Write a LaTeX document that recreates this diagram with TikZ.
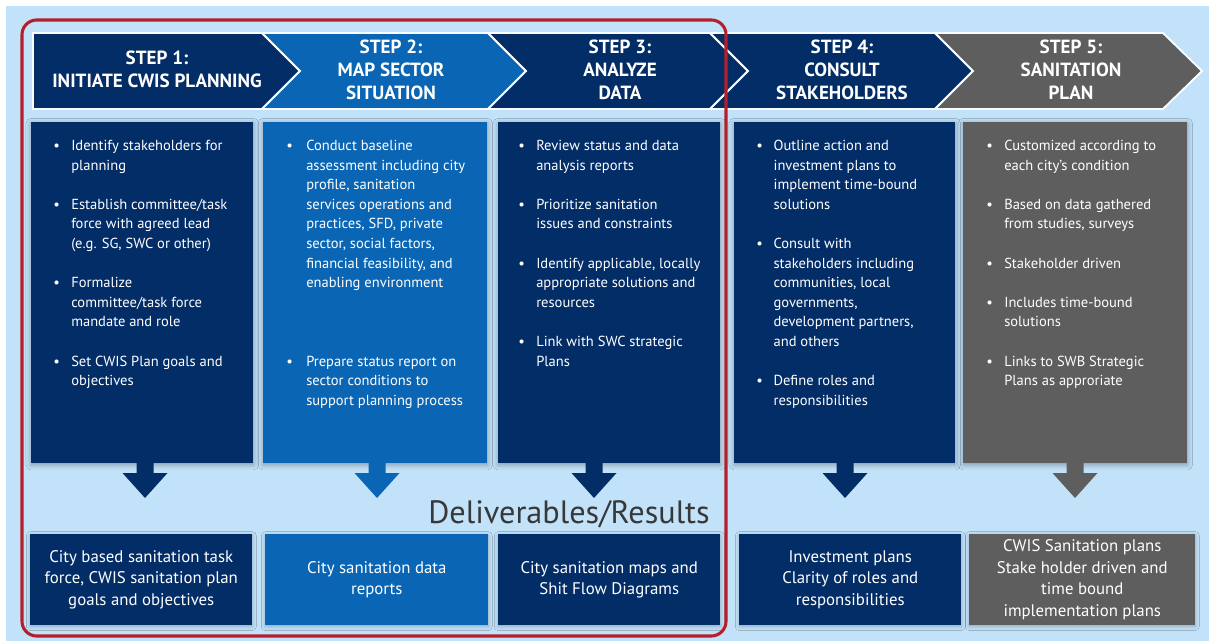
\documentclass[tikz,border=0pt]{standalone}
\usepackage{fontspec}
\setmainfont{PT Sans}
\usetikzlibrary{shadows.blur}

\definecolor{navy}{HTML}{032D67}
\definecolor{stepblue}{HTML}{0A66B4}
\definecolor{slate}{HTML}{5E5E5E}
\definecolor{sky}{HTML}{C2E2F9}
\definecolor{framered}{HTML}{B3202A}
\definecolor{ink}{HTML}{383838}

\tikzset{
  chevron/.style={line width=1.4pt, draw=white!92!sky},
  steptext/.style={text=white, align=center, inner sep=0pt,
    font=\bfseries\fontsize{14.3pt}{17.2pt}\selectfont},
  bodybox/.style={anchor=north west, inner sep=0pt, minimum height=255.75pt,
    blur shadow={shadow xshift=0pt, shadow yshift=-1pt, shadow blur radius=4pt, shadow opacity=35}},
  bodytext/.style={anchor=base west, text=white, inner sep=0pt,
    font=\fontsize{10.9pt}{14.7pt}\selectfont},
  resultbox/.style={anchor=north west, inner sep=0pt, minimum height=68.25pt,
    text=white, align=center, font=\fontsize{12.6pt}{16.1pt}\selectfont,
    blur shadow={shadow xshift=0pt, shadow yshift=-1pt, shadow blur radius=3pt, shadow opacity=25}},
  pics/downarrow/.style={code={
    \fill[#1] (-8.5,0) -- (8.5,0) -- (8.5,10) -- (22.5,10) -- (0,35)
      -- (-22.5,10) -- (-8.5,10) -- cycle;}}
}

\newcommand{\gapline}{\\[14.7pt]}

\begin{document}
\begin{tikzpicture}[x=0.75pt,y=-0.75pt]
\useasboundingbox (0,0) rectangle (1209,641);
\fill[sky] (6,6) rectangle (1209,641);

% step chevrons
\filldraw[chevron, fill=navy]      (33,33) -- (262,33) -- (300,71) -- (262,109) -- (33,109) -- cycle;
\filldraw[chevron, fill=stepblue]  (262,33) -- (488,33) -- (526,71) -- (488,109) -- (262,109) -- (300,71) -- cycle;
\filldraw[chevron, fill=navy]      (488,33) -- (710,33) -- (748,71) -- (710,109) -- (488,109) -- (526,71) -- cycle;
\filldraw[chevron, fill=navy]      (710,33) -- (935,33) -- (973,71) -- (935,109) -- (710,109) -- (748,71) -- cycle;
\filldraw[chevron, fill=slate]     (935,33) -- (1163,33) -- (1202,71) -- (1163,109) -- (935,109) -- (973,71) -- cycle;

\node[steptext] (s1) at (157,69) {STEP 1:\\INITIATE CWIS PLANNING};
\node[steptext] (s2) at (391,70) {STEP 2:\\MAP SECTOR\\SITUATION};
\node[steptext] (s3) at (620,70) {STEP 3:\\ANALYZE\\DATA};
\node[steptext] (s4) at (842,70) {STEP 4:\\CONSULT\\STAKEHOLDERS};
\node[steptext] (s5) at (1071,70) {STEP 5:\\SANITATION\\PLAN};

% activity panels
\node[bodybox, fill=navy,     minimum width=166.5pt]  (b1) at (31,122) {};
\node[bodybox, fill=stepblue, minimum width=168pt]    (b2) at (263,122) {};
\node[bodybox, fill=navy,     minimum width=166.5pt]  (b3) at (498,122) {};
\node[bodybox, fill=navy,     minimum width=165.75pt] (b4) at (734,122) {};
\node[bodybox, fill=slate,    minimum width=168pt]    (b5) at (963,122) {};

\node[bodytext] (t1) at (53,150.5) {\begin{tabular}[t]{@{}p{13.5pt}@{}l@{}}
\textbullet & Identify stakeholders for\\
 & planning\gapline
\textbullet & Establish committee/task\\
 & force with agreed lead\\
 & (e.g. SG, SWC or other)\gapline
\textbullet & Formalize\\
 & committee/task force\\
 & mandate and role\gapline
\textbullet & Set CWIS Plan goals and\\
 & objectives
\end{tabular}};

\node[bodytext] (t2) at (286,150.5) {\begin{tabular}[t]{@{}p{15pt}@{}l@{}}
\textbullet & Conduct baseline\\
 & assessment including city\\
 & profile, sanitation\\
 & services operations and\\
 & practices, SFD, private\\
 & sector, social factors,\\
 & financial feasibility, and\\
 & enabling environment\gapline
 & \gapline
\textbullet & Prepare status report on\\
 & sector conditions to\\
 & support planning process
\end{tabular}};

\node[bodytext] (t3) at (518,150.5) {\begin{tabular}[t]{@{}p{13.5pt}@{}l@{}}
\textbullet & Review status and data\\
 & analysis reports\gapline
\textbullet & Prioritize sanitation\\
 & issues and constraints\gapline
\textbullet & Identify applicable, locally\\
 & appropriate solutions and\\
 & resources\gapline
\textbullet & Link with SWC strategic\\
 & Plans
\end{tabular}};

\node[bodytext] (t4) at (756,150.5) {\begin{tabular}[t]{@{}p{13pt}@{}l@{}}
\textbullet & Outline action and\\
 & investment plans to\\
 & implement time-bound\\
 & solutions\gapline
\textbullet & Consult with\\
 & stakeholders including\\
 & communities, local\\
 & governments,\\
 & development partners,\\
 & and others\gapline
\textbullet & Define roles and\\
 & responsibilities
\end{tabular}};

\node[bodytext] (t5) at (986,150.5) {\begin{tabular}[t]{@{}p{13.5pt}@{}l@{}}
\textbullet & Customized according to\\
 & each city's condition\gapline
\textbullet & Based on data gathered\\
 & from studies, surveys\gapline
\textbullet & Stakeholder driven\gapline
\textbullet & Includes time-bound\\
 & solutions\gapline
\textbullet & Links to SWB Strategic\\
 & Plans as approriate
\end{tabular}};

% downward block arrows
\pic at (145,463) {downarrow=navy};
\pic at (377,463) {downarrow=stepblue};
\pic at (594,463) {downarrow=navy};
\pic at (845,463) {downarrow=navy};
\pic at (1075,463) {downarrow=slate};

\node[anchor=base, text=ink, inner sep=0pt, font=\fontsize{24.2pt}{28pt}\selectfont]
  (deliv) at (569,523) {Deliverables/Results};

% result boxes
\node[resultbox, fill=navy,     minimum width=166.5pt]  (d1) at (30,534)
  {City based sanitation task\\force, CWIS sanitation plan\\goals and objectives};
\node[resultbox, fill=stepblue, minimum width=167.25pt] (d2) at (265,534)
  {City sanitation data\\reports};
\node[resultbox, fill=navy,     minimum width=166.5pt]  (d3) at (498,534)
  {City sanitation maps and\\Shit Flow Diagrams};
\node[resultbox, fill=navy,     minimum width=166.5pt]  (d4) at (739,534)
  {Investment plans\\Clarity of roles and\\responsibilities};
\node[resultbox, fill=slate,    minimum width=169.5pt]  (d5) at (969,534)
  {CWIS Sanitation plans\\Stake holder driven and\\time bound\\implementation plans};

% highlight frame around steps 1-3
\draw[framered, line width=2.3pt, rounded corners=11pt] (22,20) rectangle (726,636);
\end{tikzpicture}
\end{document}
